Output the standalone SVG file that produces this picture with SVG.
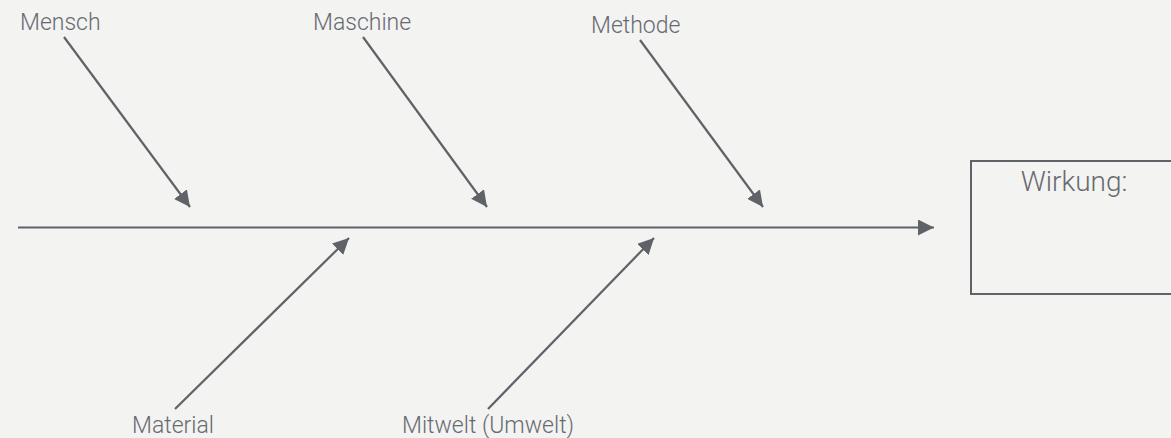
<svg xmlns="http://www.w3.org/2000/svg" width="1171" height="438" viewBox="0 0 1171 438">
<defs>
<marker id="ah" markerUnits="userSpaceOnUse" markerWidth="16" markerHeight="16" viewBox="0 0 16 16" refX="16" refY="8" orient="auto">
<path d="M0,0 L16,8 L0,16 Z" fill="#5f6368"/>
</marker>
</defs>
<style>
.lbl{font-family:Roboto,"Liberation Sans",Arial,sans-serif;font-weight:300;font-size:23px;fill:#676b70;}
.ln{stroke:#5f6368;stroke-width:2.2;fill:none;marker-end:url(#ah);}
</style>
<rect width="1171" height="438" fill="#f3f3f2"/>
<g id="connectors">
<line class="ln" x1="18" y1="227.5" x2="934" y2="227.5"/>
<line class="ln" x1="64" y1="37" x2="190" y2="207"/>
<line class="ln" x1="363" y1="37" x2="487" y2="207"/>
<line class="ln" x1="640" y1="40" x2="763" y2="207"/>
<line class="ln" x1="175" y1="409" x2="349" y2="238"/>
<line class="ln" x1="488" y1="409" x2="654" y2="238"/>
</g>
<g id="mensch"><text class="lbl" x="20" y="30">Mensch</text></g>
<g id="maschine"><text class="lbl" x="313" y="30">Maschine</text></g>
<g id="methode"><text class="lbl" x="591" y="33">Methode</text></g>
<g id="material"><text class="lbl" x="132" y="433">Material</text></g>
<g id="mitwelt"><text class="lbl" x="402" y="433">Mitwelt (Umwelt)</text></g>
<g id="wirkung">
<rect x="971" y="161" width="210" height="133" fill="none" stroke="#5f6368" stroke-width="2"/>
<text class="lbl" x="1074" y="191" text-anchor="middle" style="font-size:28px">Wirkung:</text>
</g>
</svg>
